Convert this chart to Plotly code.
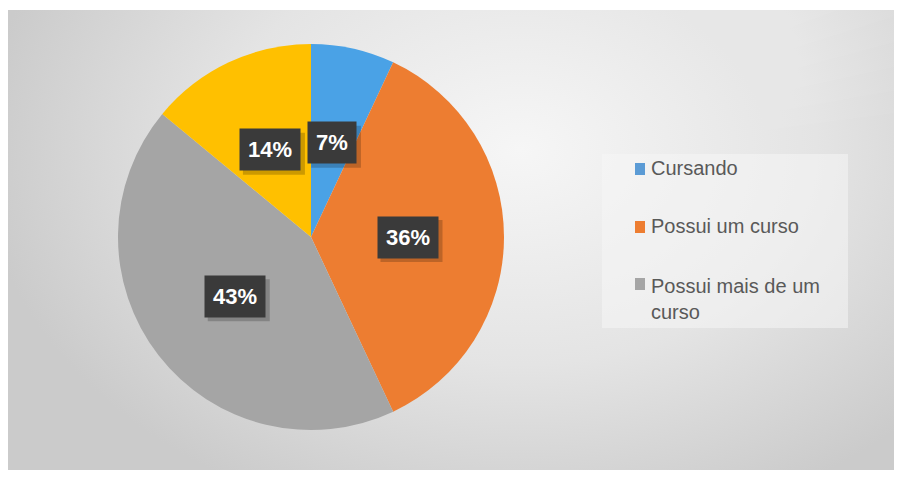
import math
import plotly.graph_objects as go

# ---- data ----
labels = ["Cursando", "Possui um curso", "Possui mais de um curso", "Outros"]
values = [7, 36, 43, 14]
colors = ["#4AA2E6", "#ED7D31", "#A5A5A5", "#FFC000"]
legend_labels = ["Cursando", "Possui um curso", "Possui mais de um<br>curso"]
legend_colors = ["#5B9BD5", "#ED7D31", "#A5A5A5"]

W, H = 903, 477
def px(x):
    return x / W
def py(y):
    return 1 - y / H

# pie geometry (pixels)
CX, CY, R = 311, 237, 193

fig = go.Figure()

# background gradient (decoration)
gx0, gx1, gy0, gy1 = 8, 894, 10, 470
bcx, bcy, hw, hh = 520, 150, 540, 390
fig.add_trace(go.Scatter(
    x=[bcx - hw, bcx + hw, bcx + hw, bcx - hw, bcx - hw],
    y=[bcy - hh, bcy - hh, bcy + hh, bcy + hh, bcy - hh],
    fill="toself", mode="lines", line=dict(width=0),
    fillgradient=dict(type="radial", colorscale=[[0, "#f6f6f6"], [0.55, "#e4e4e4"], [1, "#cbcbcb"]]),
    hoverinfo="skip", showlegend=False))

# soft highlight streak with a sharp upper-left edge, fading to the lower right
ax, ay = 490, 118
dx, dy = 0.88, -0.475
nx, ny = 0.475, 0.88
bx, by = ax + 700 * dx, ay + 700 * dy
for i in range(1, 9):
    d = 22 * i
    fig.add_trace(go.Scatter(
        x=[ax, bx, bx + d * nx * 1.8, ax + d * nx * 0.3, ax],
        y=[ay, by, by + d * ny * 1.8, ay + d * ny * 0.3, ay],
        fill="toself", mode="lines", line=dict(width=0),
        fillcolor="rgba(255,255,255,0.04)", hoverinfo="skip", showlegend=False))

fig.add_trace(go.Pie(
    labels=labels, values=values, sort=False, direction="clockwise", rotation=0,
    marker=dict(colors=colors, line=dict(width=0)),
    textinfo="none", showlegend=False,
    domain=dict(x=[px(CX - R), px(CX + R)], y=[py(CY + R), py(CY - R)])))

annotations = []
shapes = []
FS = 22
total = sum(values)
cum = 0
for v in values:
    mid = (cum + v / 2) / total * 2 * math.pi
    cum += v
    lx = CX + 0.5 * R * math.sin(mid)
    ly = CY - 0.5 * R * math.cos(mid)
    txt = f"{round(v / total * 100)}%"
    # shadow box behind the label
    bw = (len(txt) - 1) * 0.556 * FS + 0.889 * FS + 18
    bh = 42
    shapes.append(dict(type="rect", xref="paper", yref="paper",
                       x0=px(lx - bw / 2 + 4), x1=px(lx + bw / 2 + 4),
                       y0=py(ly + bh / 2 + 4), y1=py(ly - bh / 2 + 4),
                       fillcolor="rgba(0,0,0,0.2)", line=dict(width=0), layer="above"))
    annotations.append(dict(x=px(lx), y=py(ly), xref="paper", yref="paper", text=f"<b>{txt}</b>",
                            xanchor="center", yanchor="middle",
                            showarrow=False, bgcolor="#3a3a3a", borderpad=8,
                            font=dict(family="Liberation Sans", size=FS, color="white")))

shapes.append(dict(type="rect", xref="paper", yref="paper", x0=px(602), x1=px(848), y0=py(328), y1=py(154),
                   fillcolor="rgba(246,246,246,0.55)", line=dict(width=0), layer="above"))

leg_y = [168, 226, 299]
sq_y = [169, 227, 284]
for lab, col, ty, sy in zip(legend_labels, legend_colors, leg_y, sq_y):
    shapes.append(dict(type="rect", xref="paper", yref="paper", x0=px(635), x1=px(645),
                       y0=py(sy + 6), y1=py(sy - 6), fillcolor=col, line=dict(width=0), layer="above"))
    annotations.append(dict(x=px(649), y=py(ty), xref="paper", yref="paper", text=lab,
                            showarrow=False, xanchor="left", yanchor="middle", align="left",
                            font=dict(family="Liberation Sans", size=20, color="#595959")))

fig.update_layout(
    width=W, height=H, margin=dict(l=0, r=0, t=0, b=0),
    paper_bgcolor="white", plot_bgcolor="rgba(0,0,0,0)",
    xaxis=dict(domain=[px(gx0), px(gx1)], range=[gx0, gx1], visible=False, fixedrange=True),
    yaxis=dict(domain=[py(gy1), py(gy0)], range=[gy1, gy0], visible=False, fixedrange=True),
    annotations=annotations, shapes=shapes, showlegend=False)

fig.write_html("out.html")
